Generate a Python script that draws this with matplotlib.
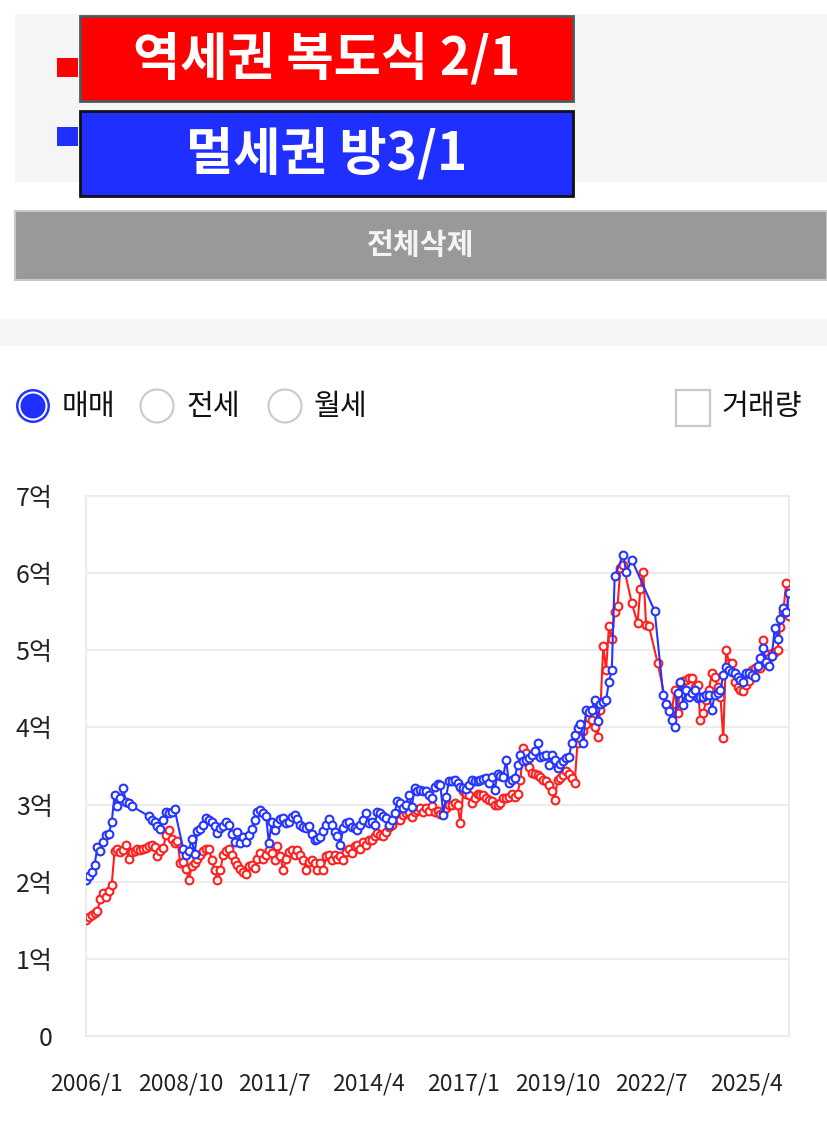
import numpy as np
import matplotlib
matplotlib.use("Agg")
import matplotlib.pyplot as plt
from matplotlib.patches import Rectangle, Circle

plt.rcParams['font.family'] = ['Noto Sans CJK KR', 'DejaVu Sans']

nan = np.nan

# ---- data ----
series_names = ["역세권 복도식 2/1", "멀세권 방3/1"]
series_colors = ["#ff1f1f", "#2535ff"]

start_year, start_month = 2006, 1
n_months = 247
months = [f"{start_year + (start_month - 1 + k) // 12}/{(start_month - 1 + k) % 12 + 1}" for k in range(n_months)]
tick_step = 33

red_values = [
    1.50, 1.54, 1.57, 1.60, 1.62, 1.78, 1.85, 1.80, 1.88, 1.96,
    2.40, 2.43, 2.38, 2.41, 2.48, 2.30, 2.38, 2.40, 2.42, 2.41,
    2.43, 2.44, 2.46, 2.47, 2.45, 2.33, 2.40, 2.44, 2.60, 2.67,
    2.56, 2.50, 2.53, 2.24, 2.25, 2.17, 2.02, 2.20, 2.24, 2.30,
    2.35, 2.40, 2.43, 2.42, 2.28, 2.15, 2.02, 2.15, 2.35, 2.40,
    2.42, 2.34, 2.27, 2.22, 2.17, 2.13, 2.10, 2.20, 2.22, 2.18,
    2.30, 2.37, 2.30, 2.35, 2.41, 2.37, 2.28, 2.46, 2.33, 2.15,
    2.30, 2.39, 2.41, 2.35, 2.41, 2.35, 2.28, 2.15, 2.26, 2.28,
    2.24, 2.15, 2.24, 2.15, 2.33, 2.35, 2.28, 2.35, 2.30, 2.33,
    2.28, 2.39, 2.43, 2.37, 2.46, 2.48, 2.43, 2.52, 2.48, 2.54,
    2.54, 2.59, 2.63, 2.61, 2.59, 2.65, 2.71, 2.74, 2.80, 2.82,
    2.80, 2.87, 2.89, 2.91, 2.84, 2.91, 2.93, 2.95, 2.91, 2.96,
    2.92, 2.98, 2.90, 2.92, 2.88, 2.89, 2.96, 2.99, 3.00, 3.02,
    3.00, 2.76, 3.17, 3.14, 3.12, 3.02, 3.08, 3.14, 3.12, 3.12,
    3.08, 3.06, 3.04, 2.99, 2.99, 3.02, 3.08, 3.08, 3.10, 3.14,
    3.10, 3.14, 3.32, 3.73, 3.67, 3.49, 3.41, 3.40, 3.38, 3.36,
    3.32, 3.30, 3.26, 3.17, 3.06, 3.32, 3.34, 3.38, 3.43, 3.40,
    3.35, 3.28, 3.80, 3.86, 3.95, 4.05, 4.12, 4.10, 4.00, 3.88,
    4.23, 5.05, 4.75, 5.31, 5.14, 5.50, 5.57, 6.07, 6.11, nan,
    nan, 5.61, nan, 5.35, 5.80, 6.02, 5.33, 5.31, nan, nan,
    4.84, nan, nan, 4.31, 4.25, 4.21, 4.49, 4.19, 4.58, 4.60,
    4.62, 4.64, 4.64, 4.53, 4.55, 4.10, 4.19, 4.35, 4.49, 4.70,
    4.66, 4.53, 4.40, 3.86, 5.01, 4.84, 4.84, 4.59, 4.53, 4.49,
    4.47, 4.55, 4.60, 4.75, 4.77, 4.77, 4.77, 5.13, 4.95, 4.90,
    4.96, 4.98, 5.01, 5.30, 5.50, 5.87, 5.45,
]

blue_values = [
    2.02, 2.07, 2.13, 2.22, 2.45, 2.40, 2.52, 2.60, 2.62, 2.78,
    3.12, 2.98, 3.08, 3.21, 3.03, 3.02, 2.98, nan, nan, nan,
    nan, nan, 2.85, 2.80, 2.77, 2.72, 2.68, 2.80, 2.91, 2.89,
    2.90, 2.94, nan, nan, 2.43, 2.35, 2.40, 2.55, 2.36, 2.66,
    2.68, 2.74, 2.82, 2.80, 2.78, 2.72, 2.63, 2.70, 2.72, 2.78,
    2.74, 2.62, 2.52, 2.64, 2.50, 2.58, 2.52, 2.60, 2.68, 2.80,
    2.91, 2.93, 2.89, 2.85, 2.50, 2.78, 2.67, 2.76, 2.81, 2.82,
    2.76, 2.78, 2.84, 2.86, 2.81, 2.74, 2.71, 2.70, 2.72, 2.62,
    2.54, 2.56, 2.58, 2.66, 2.74, 2.81, 2.73, 2.65, 2.59, 2.48,
    2.69, 2.76, 2.77, 2.71, 2.69, 2.67, 2.74, 2.80, 2.89, 2.76,
    2.78, 2.74, 2.91, 2.89, 2.85, 2.82, 2.74, 2.80, 2.89, 3.04,
    3.02, 2.95, 3.00, 3.12, 2.97, 3.21, 3.17, 3.19, 3.18, 3.17,
    3.12, 3.08, 3.23, 3.27, 3.26, 2.87, 3.10, 3.30, 3.31, 3.32,
    3.28, 3.23, 3.22, 3.20, 3.25, 3.32, 3.31, 3.30, 3.32, 3.33,
    3.34, 3.28, 3.36, 3.19, 3.39, 3.37, 3.36, 3.58, 3.28, 3.32,
    3.34, 3.51, 3.64, 3.56, 3.58, 3.60, 3.64, 3.70, 3.80, 3.62,
    3.63, 3.64, 3.51, 3.64, 3.58, 3.47, 3.52, 3.56, 3.60, 3.62,
    3.80, 3.90, 3.99, 4.05, 3.80, 4.23, 4.20, 4.23, 4.36, 4.08,
    4.31, 4.33, 4.36, 4.59, 4.75, 5.96, nan, nan, 6.24, 6.01,
    nan, 6.17, nan, nan, nan, nan, nan, nan, nan, 5.51,
    nan, nan, 4.42, 4.30, 4.21, 4.10, 4.00, 4.45, 4.59, 4.29,
    4.49, 4.40, 4.45, 4.49, 4.38, 4.40, 4.40, 4.42, 4.42, 4.23,
    4.42, 4.45, 4.48, 4.68, 4.78, 4.75, 4.72, 4.70, 4.65, 4.62,
    4.59, 4.70, 4.71, 4.68, 4.66, 4.80, 4.90, 5.03, 4.85, 4.79,
    4.93, 5.29, 5.14, 5.40, 5.55, 5.50, 5.74,
]

y_ticks = [0, 1, 2, 3, 4, 5, 6, 7]
y_tick_labels = ["0", "1억", "2억", "3억", "4억", "5억", "6억", "7억"]

radio_labels = ["매매", "전세", "월세"]
checkbox_label = "거래량"
button_label = "전체삭제"

# ---- figure ----
W, H = 827, 1127
fig = plt.figure(figsize=(W / 100, H / 100), dpi=100)
fig.patch.set_facecolor("white")

ui = fig.add_axes([0, 0, 1, 1])
ui.set_xlim(0, W)
ui.set_ylim(H, 0)
ui.axis("off")

# legend panel
ui.add_patch(Rectangle((15, 14), W - 15, 168, facecolor="#f5f5f5", edgecolor="none"))
box_fills = ["#ff0000", "#1f2fff"]
box_edges = ["#555555", "#111111"]
box_tops = [16, 111]
swatch_tops = [58, 127]
for name, fill, edge, top, stop in zip(series_names, box_fills, box_edges, box_tops, swatch_tops):
    ui.add_patch(Rectangle((57, stop), 21, 19, facecolor=fill, edgecolor="none"))
    ui.add_patch(Rectangle((80, top), 493, 85, facecolor=fill, edgecolor=edge, linewidth=2))
    ui.text(327, top + 43, name, color="white", fontsize=37, fontweight="heavy",
            ha="center", va="center")

# delete button
ui.add_patch(Rectangle((15, 211), W - 15, 69, facecolor="#999999", edgecolor="#c8c8c8", linewidth=1.5))
ui.text(421, 245, button_label, color="#f4f4f4", fontsize=21, fontweight="bold",
        ha="center", va="center")

# separator strip
ui.add_patch(Rectangle((0, 319), W, 27, facecolor="#f5f5f5", edgecolor="none"))

# radio buttons
radio_x = [33, 157, 285]
for k, (rx, lab) in enumerate(zip(radio_x, radio_labels)):
    if k == 0:
        ui.add_patch(Circle((rx, 406), 17, facecolor="#2535ff", edgecolor="none"))
        ui.add_patch(Circle((rx, 406), 14.5, facecolor="white", edgecolor="none"))
        ui.add_patch(Circle((rx, 406), 12.5, facecolor="#1f2fff", edgecolor="none"))
    else:
        ui.add_patch(Circle((rx, 406), 16.5, facecolor="white", edgecolor="#cccccc", linewidth=1.6))
    ui.text(rx + 29, 407, lab, color="#111111", fontsize=21, fontweight="medium",
            ha="left", va="center")

# checkbox
ui.add_patch(Rectangle((676, 390), 34, 36, facecolor="white", edgecolor="#c8c8c8", linewidth=1.6))
ui.text(722, 407, checkbox_label, color="#111111", fontsize=21, fontweight="medium",
        ha="left", va="center")

# ---- chart ----
L, R, T, B = 86, 789, 496, 1036
ax = fig.add_axes([L / W, 1 - B / H, (R - L) / W, (B - T) / H])
x = np.arange(n_months)
for vals, col in [(red_values, series_colors[0]), (blue_values, series_colors[1])]:
    v = np.array(vals, dtype=float)
    m = ~np.isnan(v)
    ax.plot(x[m], v[m], color=col, linewidth=1.5, marker="o", markersize=5.6,
            markerfacecolor="white", markeredgecolor=col, markeredgewidth=1.5,
            solid_joinstyle="round", zorder=3)

ax.set_xlim(0, n_months - 1)
ax.set_ylim(0, 7)
ax.set_yticks(y_ticks)
ax.set_yticklabels(y_tick_labels, fontsize=18, color="#222222")
xt = list(range(0, n_months, tick_step))
ax.set_xticks(xt)
ax.set_xticklabels([months[i] for i in xt], fontsize=16.5, color="#222222")
ax.tick_params(axis="y", length=0, pad=24)
ax.tick_params(axis="x", length=0, pad=26)
ax.grid(axis="y", color="#ececec", linewidth=1.5)
ax.set_axisbelow(True)
for s in ax.spines.values():
    s.set_color("#ececec")
    s.set_linewidth(1.5)

fig.savefig("out.png", dpi=100, facecolor="white")
